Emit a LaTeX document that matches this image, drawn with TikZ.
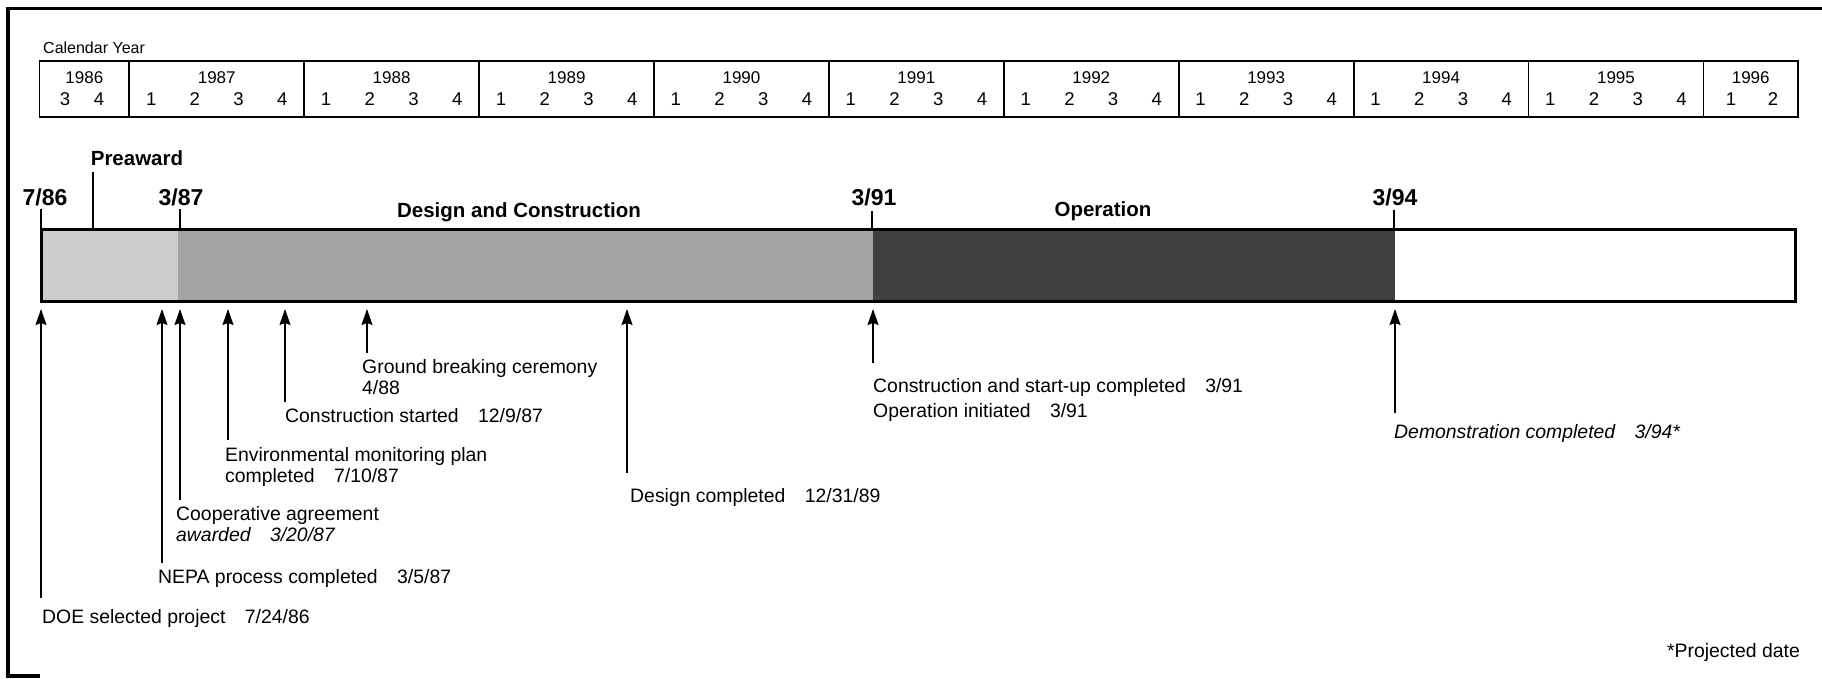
\documentclass[tikz,border=0pt]{standalone}
\usepackage{fontspec}
\setmainfont{Liberation Sans}
\usetikzlibrary{arrows.meta}
\definecolor{shadeA}{gray}{0.80}
\definecolor{shadeB}{gray}{0.64}
\definecolor{shadeC}{gray}{0.25}
\newcommand{\gp}{\hspace{1em}}
\begin{document}
\begin{tikzpicture}[x=1pt,y=-1pt,
  frame/.style={line width=3.2pt},
  tbl/.style={line width=1.8pt},
  yr/.style={font=\fontsize{17}{20}\selectfont, inner sep=0pt, anchor=base},
  qt/.style={font=\fontsize{18.5}{20}\selectfont, inner sep=0pt, anchor=base},
  phase/.style={font=\bfseries\fontsize{20.5}{24}\selectfont, inner sep=0pt, anchor=base},
  datelab/.style={font=\bfseries\fontsize{23}{26}\selectfont, inner sep=0pt, anchor=base},
  lab/.style={font=\fontsize{19.4}{21}\selectfont, inner sep=0pt, anchor=base west},
  arr/.style={line width=1.5pt, -{Stealth[length=16pt,width=11pt,inset=2pt]}},
  tickline/.style={line width=1.3pt}
]
\useasboundingbox (0,0) rectangle (1822,678);

% outer frame (left, top, bottom-left stub)
\draw[frame] (40,676) -- (8,676) -- (8,8.5) -- (1822,8.5);

% calendar
\node[yr, anchor=base west, font=\fontsize{16}{19}\selectfont] (cal) at (43,53) {Calendar Year};
\draw[tbl] (39.5,61) rectangle (1798,117);
\foreach \k in {0,...,9}
  \draw[tbl] ({129.3+174.9*\k},61) -- ({129.3+174.9*\k},117);
\node[yr] (y1986) at (84.4,83) {1986};
\node[qt] (q1986-3) at (65,105.5) {3};
\node[qt] (q1986-4) at (99,105.5) {4};
\foreach \k in {0,...,8} {
  \pgfmathsetmacro\xs{129.3+174.9*\k}
  \pgfmathtruncatemacro\yr{1987+\k}
  \node[yr] (y\yr) at ({\xs+87.45},83) {\yr};
  \foreach \q in {1,...,4}
    \node[qt] (q\yr-\q) at ({\xs+43.725*(\q-0.5)},105.5) {\q};
}
\node[yr] (y1996) at (1750.7,83) {1996};
\node[qt] (q1996-1) at (1731,105.5) {1};
\node[qt] (q1996-2) at (1773,105.5) {2};

% bar
\fill[shadeA] (41,229) rectangle (178,301);
\fill[shadeB] (178,229) rectangle (873,301);
\fill[shadeC] (873,229) rectangle (1395,301);
\draw[line width=3pt] (41,229) rectangle (1795,301);

% phase labels and dates above bar
\node[phase] (pre) at (137,165.5) {Preaward};
\node[phase] (dc) at (519,217) {Design and Construction};
\node[phase] (op) at (1103,216) {Operation};
\node[datelab] (d786) at (45,205) {7/86};
\node[datelab] (d387) at (181,205) {3/87};
\node[datelab] (d391) at (874,205) {3/91};
\node[datelab] (d394) at (1395,205) {3/94};

\coordinate (pA) at (93,172); \coordinate (pB) at (93,229);
\draw[tickline] (pA) -- (pB);
\coordinate (k1a) at (41,209);   \coordinate (k1b) at (41,229);
\coordinate (k2a) at (180,209);  \coordinate (k2b) at (180,229);
\coordinate (k3a) at (872,211);  \coordinate (k3b) at (872,229);
\coordinate (k4a) at (1394,210); \coordinate (k4b) at (1394,229);
\draw[tickline] (k1a) -- (k1b);
\draw[tickline] (k2a) -- (k2b);
\draw[tickline] (k3a) -- (k3b);
\draw[tickline] (k4a) -- (k4b);

% milestone arrows
\coordinate (t1) at (41,309);   \coordinate (b1) at (41,598);
\coordinate (t2) at (162,309);  \coordinate (b2) at (162,563);
\coordinate (t3) at (180,309);  \coordinate (b3) at (180,500);
\coordinate (t4) at (228,309);  \coordinate (b4) at (228,440);
\coordinate (t5) at (285,309);  \coordinate (b5) at (285,402);
\coordinate (t6) at (367,309);  \coordinate (b6) at (367,353);
\coordinate (t7) at (627,309);  \coordinate (b7) at (627,473);
\coordinate (t8) at (873,309);  \coordinate (b8) at (873,363);
\coordinate (t9) at (1395,309); \coordinate (b9) at (1395,413);
\foreach \i in {1,...,9} \draw[arr] (b\i) -- (t\i);

\node[lab] (l1) at (42,623.5) {DOE selected project\gp 7/24/86};
\node[lab] (l2) at (158,583.5) {NEPA process completed\gp 3/5/87};
\node[lab] (l3a) at (176,520) {Cooperative agreement};
\node[lab] (l3b) at (176,541) {\itshape awarded\gp 3/20/87};
\node[lab] (l4a) at (225,461) {Environmental monitoring plan};
\node[lab] (l4b) at (225,482) {completed\gp 7/10/87};
\node[lab] (l5) at (285,422) {Construction started\gp 12/9/87};
\node[lab] (l6a) at (362,373.5) {Ground breaking ceremony};
\node[lab] (l6b) at (362,394) {4/88};
\node[lab] (l7) at (630,502) {Design completed\gp 12/31/89};
\node[lab] (l8a) at (873,392) {Construction and start-up completed\gp 3/91};
\node[lab] (l8b) at (873,417) {Operation initiated\gp 3/91};
\node[lab] (l9) at (1394,438.5) {\itshape Demonstration completed\gp 3/94*};
\node[lab, anchor=base east] (proj) at (1800,657) {*Projected date};
\end{tikzpicture}
\end{document}
